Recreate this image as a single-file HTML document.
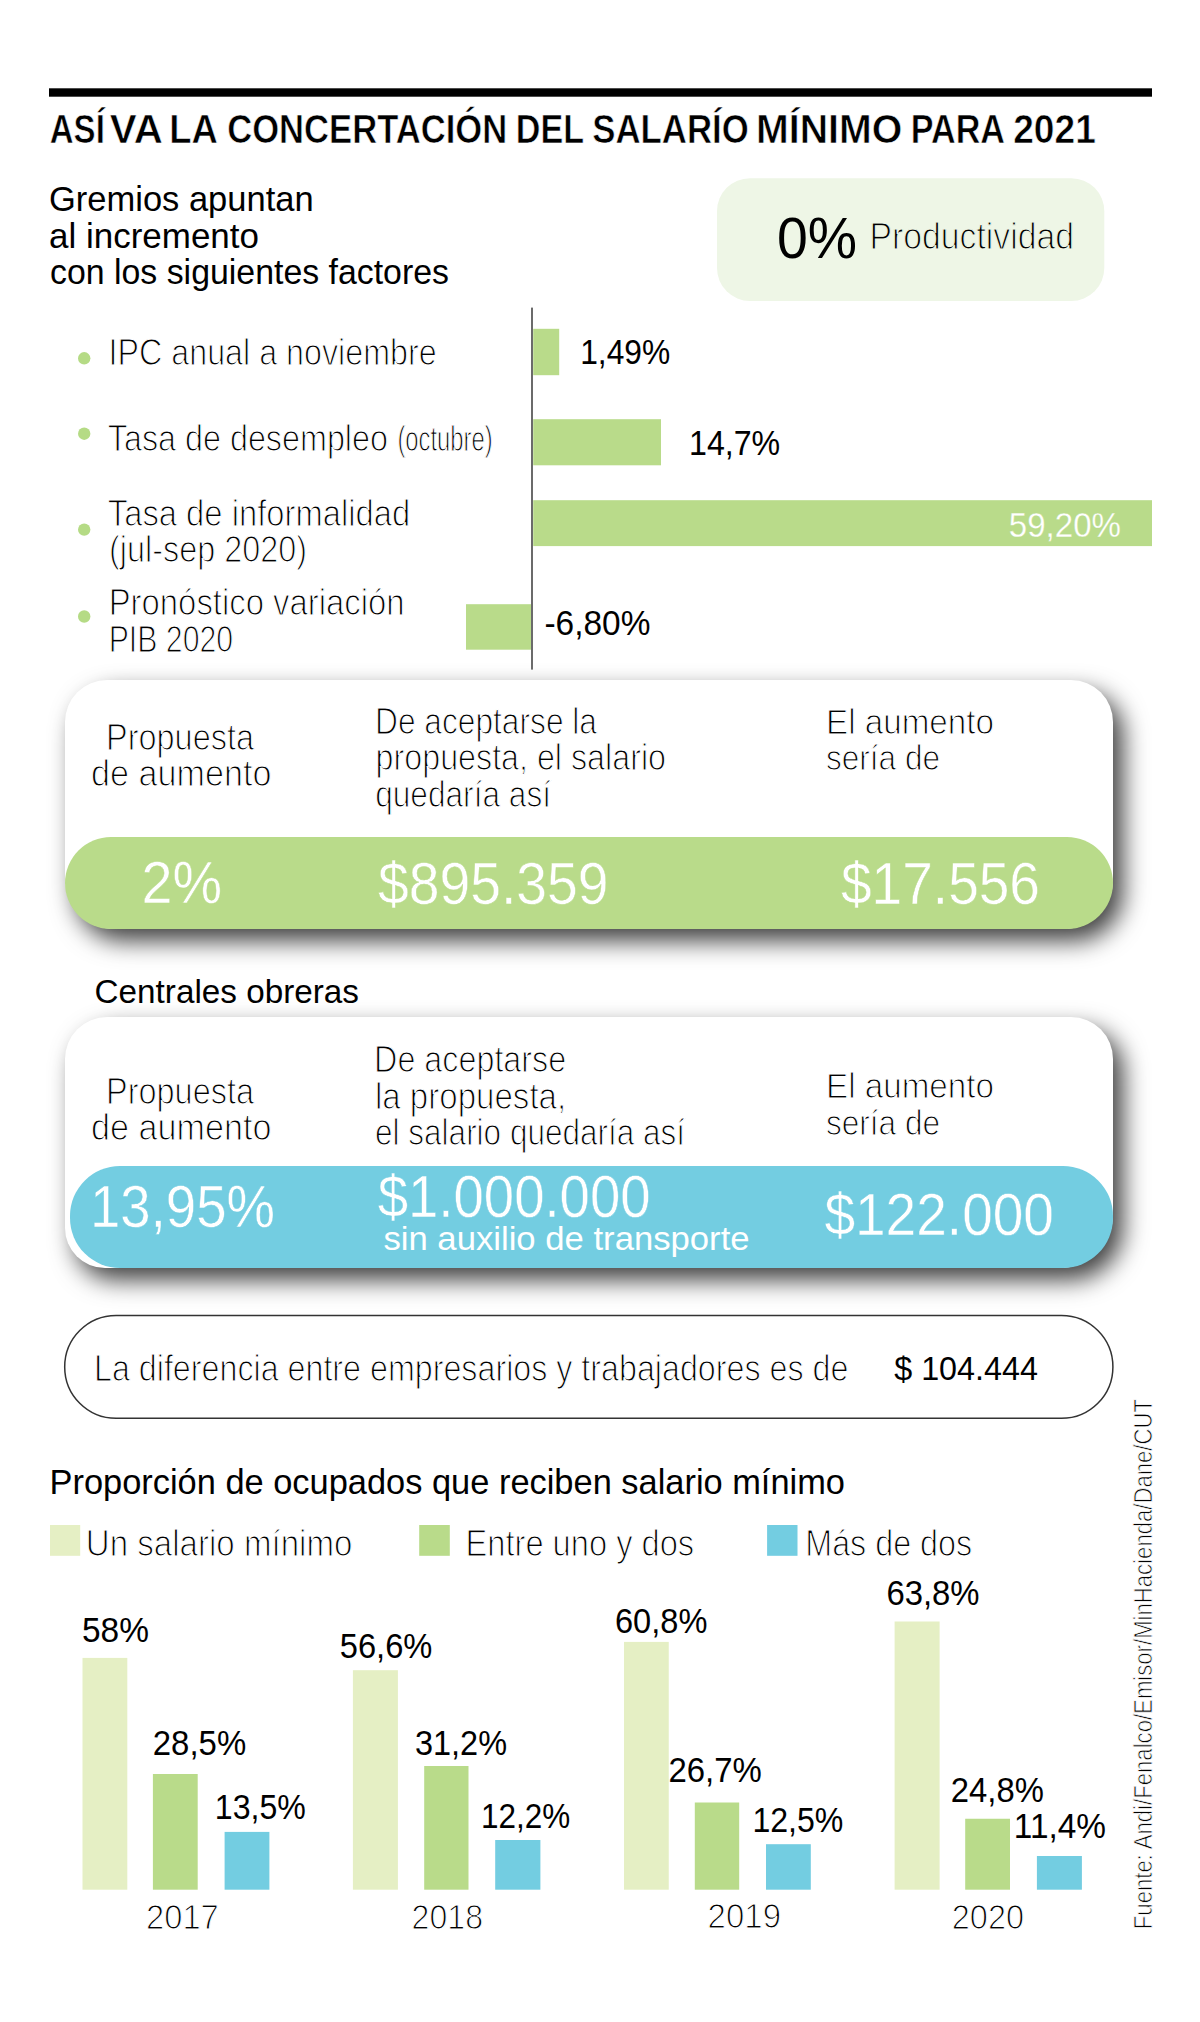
<!DOCTYPE html>
<html><head><meta charset="utf-8"><title>Así va la concertación del salario mínimo para 2021</title>
<style>
html,body{margin:0;padding:0;background:#fff;}
body{width:1200px;height:2022px;position:relative;overflow:hidden;font-family:"Liberation Sans",Arial,sans-serif;}
.box{position:absolute;background:#fff;border-radius:42px;box-shadow:10px 12px 24px rgba(0,0,0,0.75);}
.band{position:absolute;}
svg{position:absolute;left:0;top:0;}
svg text{font-family:"Liberation Sans",Arial,sans-serif;}
</style></head><body>
<div class="box" style="left:65px;top:680px;width:1048px;height:249px;border-radius:42px 42px 49px 49px;"></div>
<div class="band" style="left:65px;top:837px;width:1048px;height:92px;background:#B9DB8A;border-radius:46px;"></div>
<div class="box" style="left:65px;top:1017px;width:1048px;height:251px;border-radius:42px 42px 53px 40px;"></div>
<div class="band" style="left:70px;top:1165.5px;width:1043px;height:102.5px;background:#73CDE1;border-radius:50px;"></div>
<svg width="1200" height="2022" viewBox="0 0 1200 2022">
<rect x="49.00" y="88.30" width="1103.00" height="8.40" rx="0.00" fill="#000"/>
<rect x="717.00" y="178.20" width="387.30" height="122.80" rx="33.00" fill="#EEF6E6"/>
<rect x="531.00" y="307.60" width="2.00" height="362.00" rx="0.00" fill="#6b6b6b"/>
<rect x="533.20" y="328.80" width="26.00" height="46.40" rx="0.00" fill="#B9DB8A"/>
<rect x="533.20" y="419.20" width="127.80" height="46.10" rx="0.00" fill="#B9DB8A"/>
<rect x="533.20" y="500.20" width="618.80" height="45.90" rx="0.00" fill="#B9DB8A"/>
<rect x="466.00" y="604.20" width="65.00" height="45.50" rx="0.00" fill="#B9DB8A"/>
<circle cx="84.2" cy="358.3" r="6.2" fill="#B5DB85"/>
<circle cx="84.2" cy="433.7" r="6.2" fill="#B5DB85"/>
<circle cx="84.2" cy="529.6" r="6.2" fill="#B5DB85"/>
<circle cx="84.2" cy="616.5" r="6.2" fill="#B5DB85"/>
<rect x="64.7" y="1315.5" width="1048.2" height="102.8" rx="51.4" fill="none" stroke="#333" stroke-width="1.5"/>
<rect x="50.00" y="1525.00" width="30.20" height="30.80" rx="0.00" fill="#E5EFC4"/>
<rect x="419.20" y="1525.00" width="30.60" height="30.80" rx="0.00" fill="#B9DB8A"/>
<rect x="767.10" y="1525.00" width="30.40" height="30.80" rx="0.00" fill="#73CDE1"/>
<rect x="82.50" y="1657.90" width="44.80" height="231.80" rx="0.00" fill="#E5EFC4"/>
<rect x="152.90" y="1774.00" width="44.80" height="115.70" rx="0.00" fill="#B9DB8A"/>
<rect x="224.60" y="1831.90" width="44.80" height="57.80" rx="0.00" fill="#73CDE1"/>
<rect x="352.90" y="1670.20" width="45.00" height="219.50" rx="0.00" fill="#E5EFC4"/>
<rect x="424.20" y="1766.00" width="44.30" height="123.70" rx="0.00" fill="#B9DB8A"/>
<rect x="495.20" y="1840.00" width="45.20" height="49.70" rx="0.00" fill="#73CDE1"/>
<rect x="624.00" y="1641.90" width="44.75" height="247.80" rx="0.00" fill="#E5EFC4"/>
<rect x="694.80" y="1802.50" width="44.40" height="87.20" rx="0.00" fill="#B9DB8A"/>
<rect x="766.00" y="1844.20" width="44.80" height="45.50" rx="0.00" fill="#73CDE1"/>
<rect x="894.60" y="1621.50" width="45.00" height="268.20" rx="0.00" fill="#E5EFC4"/>
<rect x="965.20" y="1818.75" width="44.80" height="70.95" rx="0.00" fill="#B9DB8A"/>
<rect x="1036.90" y="1856.00" width="45.00" height="33.70" rx="0.00" fill="#73CDE1"/>
<text id="tw0" x="49.80" y="143.35" font-size="40.71" fill="#000" font-weight="bold" stroke="#fff" stroke-width="0.61" textLength="55.00" lengthAdjust="spacingAndGlyphs">ASÍ</text>
<text id="tw1" x="109.80" y="143.35" font-size="40.71" fill="#000" font-weight="bold" stroke="#fff" stroke-width="0.61" textLength="53.00" lengthAdjust="spacingAndGlyphs">VA</text>
<text id="tw2" x="169.20" y="143.35" font-size="40.71" fill="#000" font-weight="bold" stroke="#fff" stroke-width="0.61" textLength="48.60" lengthAdjust="spacingAndGlyphs">LA</text>
<text id="tw3" x="227.20" y="143.35" font-size="40.71" fill="#000" font-weight="bold" stroke="#fff" stroke-width="0.61" textLength="280.00" lengthAdjust="spacingAndGlyphs">CONCERTACIÓN</text>
<text id="tw4" x="515.80" y="143.35" font-size="40.71" fill="#000" font-weight="bold" stroke="#fff" stroke-width="0.61" textLength="68.20" lengthAdjust="spacingAndGlyphs">DEL</text>
<text id="tw5" x="592.20" y="143.35" font-size="40.71" fill="#000" font-weight="bold" stroke="#fff" stroke-width="0.61" textLength="156.60" lengthAdjust="spacingAndGlyphs">SALARÍO</text>
<text id="tw6" x="756.00" y="143.35" font-size="40.71" fill="#000" font-weight="bold" stroke="#fff" stroke-width="0.61" textLength="146.20" lengthAdjust="spacingAndGlyphs">MÍNIMO</text>
<text id="tw7" x="910.80" y="143.35" font-size="40.71" fill="#000" font-weight="bold" stroke="#fff" stroke-width="0.61" textLength="94.20" lengthAdjust="spacingAndGlyphs">PARA</text>
<text id="tw8" x="1013.20" y="143.35" font-size="40.71" fill="#000" font-weight="bold" stroke="#fff" stroke-width="0.61" textLength="82.60" lengthAdjust="spacingAndGlyphs">2021</text>
<text id="g1" x="49.00" y="211.00" font-size="34.54" fill="#000" textLength="264.60" lengthAdjust="spacingAndGlyphs">Gremios apuntan</text>
<text id="g2" x="49.00" y="247.50" font-size="34.54" fill="#000" textLength="210.00" lengthAdjust="spacingAndGlyphs">al incremento</text>
<text id="g3" x="50.00" y="284.00" font-size="34.54" fill="#000" textLength="399.00" lengthAdjust="spacingAndGlyphs">con los siguientes factores</text>
<text id="p0" x="776.90" y="258.10" font-size="58.14" fill="#000" textLength="80.10" lengthAdjust="spacingAndGlyphs">0%</text>
<text id="pt" x="869.50" y="248.59" font-size="36.16" fill="#000" stroke="#EEF6E6" stroke-width="1.16" textLength="204.50" lengthAdjust="spacingAndGlyphs">Productividad</text>
<text id="l1" x="108.60" y="364.79" font-size="36.76" fill="#000" stroke="#fff" stroke-width="1.18" textLength="328.00" lengthAdjust="spacingAndGlyphs">IPC anual a noviembre</text>
<text id="l2" x="107.80" y="451.10" font-size="37.20" fill="#000" stroke="#fff" stroke-width="1.19" textLength="280.20" lengthAdjust="spacingAndGlyphs">Tasa de desempleo</text>
<text id="l2b" x="397.40" y="450.77" font-size="34.23" fill="#000" stroke="#fff" stroke-width="1.10" textLength="95.30" lengthAdjust="spacingAndGlyphs">(octubre)</text>
<text id="l3" x="107.80" y="525.99" font-size="36.76" fill="#000" stroke="#fff" stroke-width="1.18" textLength="302.40" lengthAdjust="spacingAndGlyphs">Tasa de informalidad</text>
<text id="l3b" x="109.05" y="562.39" font-size="36.76" fill="#000" stroke="#fff" stroke-width="1.18" textLength="197.95" lengthAdjust="spacingAndGlyphs">(jul-sep 2020)</text>
<text id="l4" x="108.70" y="614.89" font-size="36.16" fill="#000" stroke="#fff" stroke-width="1.16" textLength="295.90" lengthAdjust="spacingAndGlyphs">Pronóstico variación</text>
<text id="l4b" x="108.70" y="651.79" font-size="36.31" fill="#000" stroke="#fff" stroke-width="1.16" textLength="124.50" lengthAdjust="spacingAndGlyphs">PIB 2020</text>
<text id="v1" x="580.20" y="364.30" font-size="34.74" fill="#000" textLength="90.00" lengthAdjust="spacingAndGlyphs">1,49%</text>
<text id="v2" x="689.00" y="455.00" font-size="34.74" fill="#000" textLength="91.20" lengthAdjust="spacingAndGlyphs">14,7%</text>
<text id="v3" x="1008.80" y="536.67" font-size="34.94" fill="#fff" stroke="#B9DB8A" stroke-width="0.28" textLength="112.20" lengthAdjust="spacingAndGlyphs">59,20%</text>
<text id="v4" x="544.40" y="635.00" font-size="34.74" fill="#000" textLength="106.00" lengthAdjust="spacingAndGlyphs">-6,80%</text>
<text id="b1a" x="106.00" y="750.29" font-size="36.46" fill="#000" stroke="#fff" stroke-width="1.17" textLength="148.00" lengthAdjust="spacingAndGlyphs">Propuesta</text>
<text id="b1b" x="91.00" y="786.29" font-size="36.46" fill="#000" stroke="#fff" stroke-width="1.17" textLength="180.40" lengthAdjust="spacingAndGlyphs">de aumento</text>
<text id="b1c" x="375.00" y="734.05" font-size="37.20" fill="#000" stroke="#fff" stroke-width="1.19" textLength="222.00" lengthAdjust="spacingAndGlyphs">De aceptarse la</text>
<text id="b1d" x="375.60" y="770.10" font-size="37.20" fill="#000" stroke="#fff" stroke-width="1.19" textLength="290.40" lengthAdjust="spacingAndGlyphs">propuesta, el salario</text>
<text id="b1e" x="375.20" y="807.00" font-size="37.20" fill="#000" stroke="#fff" stroke-width="1.19" textLength="175.80" lengthAdjust="spacingAndGlyphs">quedaría así</text>
<text id="b1f" x="826.00" y="733.89" font-size="35.71" fill="#000" stroke="#fff" stroke-width="1.14" textLength="168.00" lengthAdjust="spacingAndGlyphs">El aumento</text>
<text id="b1g" x="826.00" y="770.29" font-size="35.71" fill="#000" stroke="#fff" stroke-width="1.14" textLength="114.00" lengthAdjust="spacingAndGlyphs">sería de</text>
<text id="b1h" x="141.40" y="903.42" font-size="58.48" fill="#fff" stroke="#B9DB8A" stroke-width="0.47" textLength="80.60" lengthAdjust="spacingAndGlyphs">2%</text>
<text id="b1i" x="378.00" y="903.62" font-size="58.48" fill="#fff" stroke="#B9DB8A" stroke-width="0.47" textLength="230.60" lengthAdjust="spacingAndGlyphs">$895.359</text>
<text id="b1j" x="841.00" y="903.52" font-size="58.48" fill="#fff" stroke="#B9DB8A" stroke-width="0.47" textLength="199.00" lengthAdjust="spacingAndGlyphs">$17.556</text>
<text id="co" x="94.60" y="1003.00" font-size="33.13" fill="#000" textLength="264.40" lengthAdjust="spacingAndGlyphs">Centrales obreras</text>
<text id="b2a" x="106.00" y="1103.59" font-size="36.46" fill="#000" stroke="#fff" stroke-width="1.17" textLength="148.00" lengthAdjust="spacingAndGlyphs">Propuesta</text>
<text id="b2b" x="91.00" y="1139.99" font-size="36.46" fill="#000" stroke="#fff" stroke-width="1.17" textLength="180.40" lengthAdjust="spacingAndGlyphs">de aumento</text>
<text id="b2c" x="374.10" y="1072.39" font-size="36.61" fill="#000" stroke="#fff" stroke-width="1.17" textLength="192.10" lengthAdjust="spacingAndGlyphs">De aceptarse</text>
<text id="b2d" x="374.90" y="1109.04" font-size="36.61" fill="#000" stroke="#fff" stroke-width="1.17" textLength="191.30" lengthAdjust="spacingAndGlyphs">la propuesta,</text>
<text id="b2e" x="375.10" y="1145.29" font-size="36.61" fill="#000" stroke="#fff" stroke-width="1.17" textLength="309.90" lengthAdjust="spacingAndGlyphs">el salario quedaría así</text>
<text id="b2f" x="826.00" y="1098.29" font-size="35.71" fill="#000" stroke="#fff" stroke-width="1.14" textLength="168.00" lengthAdjust="spacingAndGlyphs">El aumento</text>
<text id="b2g" x="826.00" y="1134.89" font-size="35.71" fill="#000" stroke="#fff" stroke-width="1.14" textLength="114.00" lengthAdjust="spacingAndGlyphs">sería de</text>
<text id="b2h" x="90.00" y="1227.12" font-size="58.48" fill="#fff" stroke="#73CDE1" stroke-width="0.47" textLength="185.00" lengthAdjust="spacingAndGlyphs">13,95%</text>
<text id="b2i" x="377.70" y="1217.42" font-size="58.48" fill="#fff" stroke="#73CDE1" stroke-width="0.47" textLength="272.90" lengthAdjust="spacingAndGlyphs">$1.000.000</text>
<text id="b2j" x="383.40" y="1249.60" font-size="33.84" fill="#fff" textLength="366.20" lengthAdjust="spacingAndGlyphs">sin auxilio de transporte</text>
<text id="b2k" x="824.40" y="1235.42" font-size="59.65" fill="#fff" stroke="#73CDE1" stroke-width="0.48" textLength="229.60" lengthAdjust="spacingAndGlyphs">$122.000</text>
<text id="pl" x="94.00" y="1381.10" font-size="37.20" fill="#000" stroke="#fff" stroke-width="1.19" textLength="754.40" lengthAdjust="spacingAndGlyphs">La diferencia entre empresarios y trabajadores es de</text>
<text id="pv" x="894.20" y="1379.60" font-size="32.41" fill="#000" textLength="143.80" lengthAdjust="spacingAndGlyphs">$ 104.444</text>
<text id="ch" x="49.50" y="1493.50" font-size="34.82" fill="#000" textLength="795.50" lengthAdjust="spacingAndGlyphs">Proporción de ocupados que reciben salario mínimo</text>
<text id="lg1" x="85.80" y="1556.10" font-size="37.80" fill="#000" stroke="#fff" stroke-width="1.21" textLength="266.60" lengthAdjust="spacingAndGlyphs">Un salario mínimo</text>
<text id="lg2" x="465.50" y="1556.10" font-size="37.80" fill="#000" stroke="#fff" stroke-width="1.21" textLength="228.70" lengthAdjust="spacingAndGlyphs">Entre uno y dos</text>
<text id="lg3" x="805.25" y="1556.00" font-size="37.20" fill="#000" stroke="#fff" stroke-width="1.19" textLength="166.95" lengthAdjust="spacingAndGlyphs">Más de dos</text>
<text id="bl0" x="82.00" y="1641.70" font-size="34.16" fill="#000" textLength="67.00" lengthAdjust="spacingAndGlyphs">58%</text>
<text id="bl1" x="152.80" y="1755.20" font-size="34.16" fill="#000" textLength="93.40" lengthAdjust="spacingAndGlyphs">28,5%</text>
<text id="bl2" x="214.80" y="1818.75" font-size="34.16" fill="#000" textLength="91.00" lengthAdjust="spacingAndGlyphs">13,5%</text>
<text id="bl3" x="339.80" y="1657.90" font-size="34.16" fill="#000" textLength="92.60" lengthAdjust="spacingAndGlyphs">56,6%</text>
<text id="bl4" x="415.00" y="1755.20" font-size="34.16" fill="#000" textLength="92.00" lengthAdjust="spacingAndGlyphs">31,2%</text>
<text id="bl5" x="481.00" y="1827.70" font-size="34.16" fill="#000" textLength="89.20" lengthAdjust="spacingAndGlyphs">12,2%</text>
<text id="bl6" x="615.00" y="1632.50" font-size="34.16" fill="#000" textLength="92.40" lengthAdjust="spacingAndGlyphs">60,8%</text>
<text id="bl7" x="668.40" y="1782.00" font-size="34.16" fill="#000" textLength="93.40" lengthAdjust="spacingAndGlyphs">26,7%</text>
<text id="bl8" x="752.40" y="1831.70" font-size="34.16" fill="#000" textLength="91.00" lengthAdjust="spacingAndGlyphs">12,5%</text>
<text id="bl9" x="886.40" y="1605.40" font-size="34.16" fill="#000" textLength="93.20" lengthAdjust="spacingAndGlyphs">63,8%</text>
<text id="bl10" x="950.80" y="1802.30" font-size="34.16" fill="#000" textLength="93.00" lengthAdjust="spacingAndGlyphs">24,8%</text>
<text id="bl11" x="1013.80" y="1837.70" font-size="34.16" fill="#000" textLength="92.20" lengthAdjust="spacingAndGlyphs">11,4%</text>
<text id="yr0" x="146.00" y="1929.49" font-size="35.71" fill="#000" stroke="#fff" stroke-width="1.14" textLength="72.80" lengthAdjust="spacingAndGlyphs">2017</text>
<text id="yr1" x="411.60" y="1929.29" font-size="35.71" fill="#000" stroke="#fff" stroke-width="1.14" textLength="71.40" lengthAdjust="spacingAndGlyphs">2018</text>
<text id="yr2" x="707.60" y="1928.29" font-size="35.71" fill="#000" stroke="#fff" stroke-width="1.14" textLength="73.40" lengthAdjust="spacingAndGlyphs">2019</text>
<text id="yr3" x="951.80" y="1929.04" font-size="35.71" fill="#000" stroke="#fff" stroke-width="1.14" textLength="72.20" lengthAdjust="spacingAndGlyphs">2020</text>
<text id="src" x="1152.00" y="1929.20" font-size="25.00" fill="#000" stroke="#fff" stroke-width="0.80" textLength="530.20" lengthAdjust="spacingAndGlyphs" transform="rotate(-90 1152.00 1929.20)">Fuente: Andi/Fenalco/Emisor/MinHacienda/Dane/CUT</text>
</svg>
</body></html>
